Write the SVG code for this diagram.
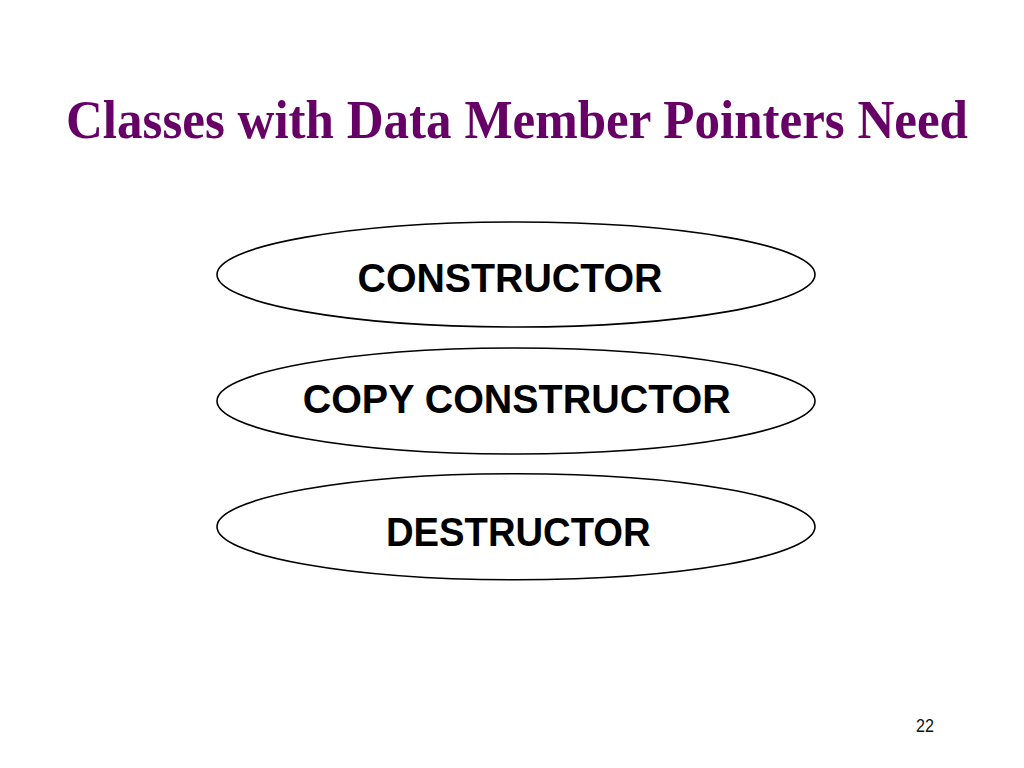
<svg xmlns="http://www.w3.org/2000/svg" width="1024" height="768" viewBox="0 0 1024 768">
<style>
.title{font-family:"Liberation Serif","Times New Roman",serif;font-weight:bold;font-size:54px;fill:#660066}
.node ellipse{fill:#ffffff;stroke:#000000;stroke-width:1.6}
.node text{font-family:"Liberation Sans",Arial,sans-serif;font-weight:bold;font-size:41px;fill:#000000}
.pg{font-family:"Liberation Sans",Arial,sans-serif;font-size:18px;fill:#111111}
</style>
<rect x="0" y="0" width="1024" height="768" fill="#ffffff"/>
<text class="title" x="66" y="138" textLength="902" lengthAdjust="spacingAndGlyphs">Classes with Data Member Pointers Need</text>
<g id="connectors"></g>
<g id="constructor" class="node">
<ellipse cx="516" cy="274.5" rx="299" ry="52.5"/>
<text x="357.5" y="291.7" textLength="305" lengthAdjust="spacingAndGlyphs">CONSTRUCTOR</text>
</g>
<g id="copy-constructor" class="node">
<ellipse cx="516" cy="401" rx="299" ry="53"/>
<text x="302.7" y="412.7" textLength="428" lengthAdjust="spacingAndGlyphs">COPY CONSTRUCTOR</text>
</g>
<g id="destructor" class="node">
<ellipse cx="516" cy="526.75" rx="299" ry="53"/>
<text x="386" y="546" textLength="264.7" lengthAdjust="spacingAndGlyphs">DESTRUCTOR</text>
</g>
<text class="pg" x="916" y="732.3" textLength="18" lengthAdjust="spacingAndGlyphs">22</text>
</svg>
